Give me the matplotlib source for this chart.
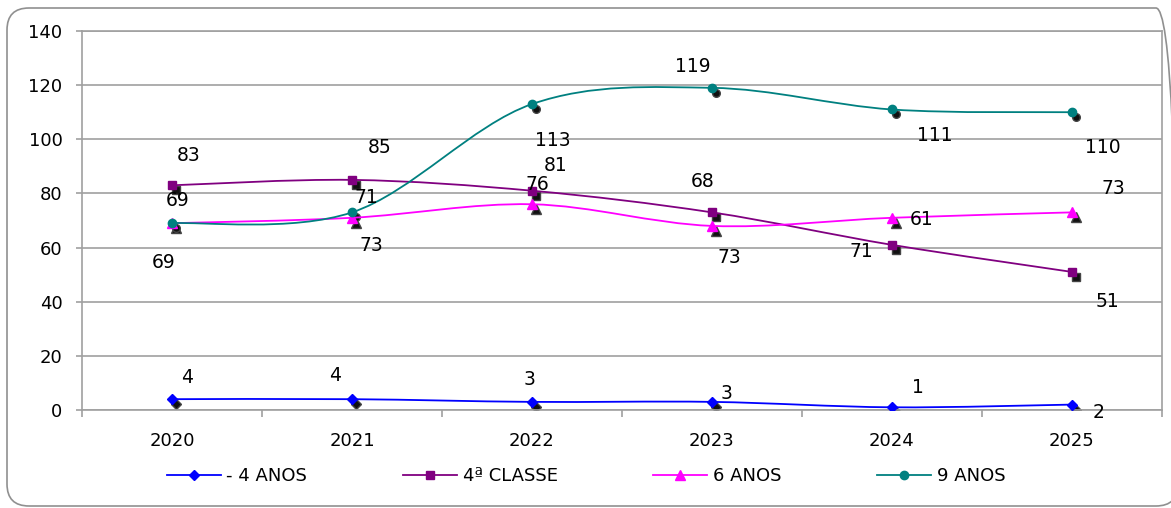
import matplotlib.pyplot as plt
import matplotlib.transforms as mtransforms
from matplotlib.path import Path
from matplotlib.patches import PathPatch, FancyBboxPatch
from matplotlib.lines import Line2D

years = ["2020", "2021", "2022", "2023", "2024", "2025"]
menos_4_anos = [4, 4, 3, 3, 1, 2]
quarta_classe = [83, 85, 81, 73, 61, 51]
seis_anos = [69, 71, 76, 68, 71, 73]
nove_anos = [69, 73, 113, 119, 111, 110]

# label offsets (pixels, y up) so the numbers don't pile on top of each other
off_menos4 = [(15, 22), (-17, 24), (-2, 22), (15, 8), (26, 20), (27, -8)]
off_quarta = [(17, 30), (28, 32), (24, 25), (17, -45), (30, 25), (35, -30)]
off_seis = [(-8, -39), (14, 20), (5, 20), (-9, 44), (-31, -34), (41, 24)]
off_nove = [(6, 23), (19, -33), (21, -36), (-19, 21), (43, -26), (31, -35)]

plt.rcParams['font.family'] = ['DejaVu Sans']


def smooth_path(xs, ys):
    # cubic bezier through the points, like a spreadsheet "smoothed line"
    pts = list(zip(xs, ys))
    verts = [pts[0]]
    codes = [Path.MOVETO]
    n = len(pts)
    for i in range(n - 1):
        p0 = pts[i - 1] if i > 0 else pts[i]
        p1 = pts[i]
        p2 = pts[i + 1]
        p3 = pts[i + 2] if i + 2 < n else pts[i + 1]
        c1 = (p1[0] + (p2[0] - p0[0]) / 6, p1[1] + (p2[1] - p0[1]) / 6)
        c2 = (p2[0] - (p3[0] - p1[0]) / 6, p2[1] - (p3[1] - p1[1]) / 6)
        verts += [c1, c2, p2]
        codes += [Path.CURVE4] * 3
    return Path(verts, codes)


fig = plt.figure(figsize=(11.71, 5.08), dpi=100)
ax = fig.add_axes([0.0700, 0.1929, 0.9223, 0.7461])

x = list(range(len(years)))
series = [
    ("- 4 ANOS", menos_4_anos, "#0000FF", "D", 5.5, off_menos4),
    ("4ª CLASSE", quarta_classe, "#800080", "s", 6, off_quarta),
    ("6 ANOS", seis_anos, "#FF00FF", "^", 7, off_seis),
    ("9 ANOS", nove_anos, "#008080", "o", 6, off_nove),
]

shadow = mtransforms.offset_copy(ax.transData, fig=fig, x=4, y=-5, units='dots')
handles = []
for name, vals, color, mk, ms, offs in series:
    ax.plot(x, vals, linestyle='none', marker=mk, markersize=ms - 0.5,
            color='#111111', markeredgecolor='#444444', transform=shadow, zorder=2)
    ax.add_patch(PathPatch(smooth_path(x, vals), facecolor='none',
                           edgecolor=color, lw=1.3, zorder=3))
    ax.plot(x, vals, linestyle='none', marker=mk, markersize=ms,
            color=color, markeredgecolor=color, zorder=4)
    for xi, v, (dx, dy) in zip(x, vals, offs):
        ax.annotate(str(v), (xi, v), xytext=(dx, dy), textcoords='offset pixels',
                    ha='center', va='center', fontsize=13.5, color='black', zorder=5)
    handles.append(Line2D([], [], color=color, lw=1.3, marker=mk, markersize=ms,
                          label=name))

ax.set_xlim(-0.5, len(years) - 0.5)
ax.set_ylim(0, 140)
ax.set_yticks(range(0, 141, 20))
ax.yaxis.grid(True, color='#a0a0a0', lw=1.2)
ax.set_axisbelow(True)

ax.set_xticks([i - 0.5 for i in range(len(years) + 1)])
ax.set_xticklabels([])
ax.set_xticks(x, minor=True)
ax.set_xticklabels(years, minor=True)
ax.tick_params(axis='x', which='major', length=5, width=1.2, color='#a0a0a0')
ax.tick_params(axis='x', which='minor', length=0, pad=16, labelsize=13)
ax.tick_params(axis='y', length=4, width=1.2, color='#a0a0a0', pad=10, labelsize=13)

for s in ax.spines.values():
    s.set_color('#a0a0a0')
    s.set_linewidth(1.2)

fig.legend(handles=handles, loc='center', bbox_to_anchor=(586 / 1171, 1 - 476 / 508),
           ncol=4, frameon=False, fontsize=13, handlelength=3.0, handletextpad=0.3,
           columnspacing=5.3)

# outer rounded frame, running off the right edge
frame = FancyBboxPatch((0.07, 0.02), 11.71, 4.98, boxstyle="round,pad=0,rounding_size=0.22",
                       transform=fig.dpi_scale_trans, facecolor='none',
                       edgecolor='#909090', lw=1.2, zorder=0)
fig.patches.append(frame)

fig.savefig("out.png", dpi=100)
